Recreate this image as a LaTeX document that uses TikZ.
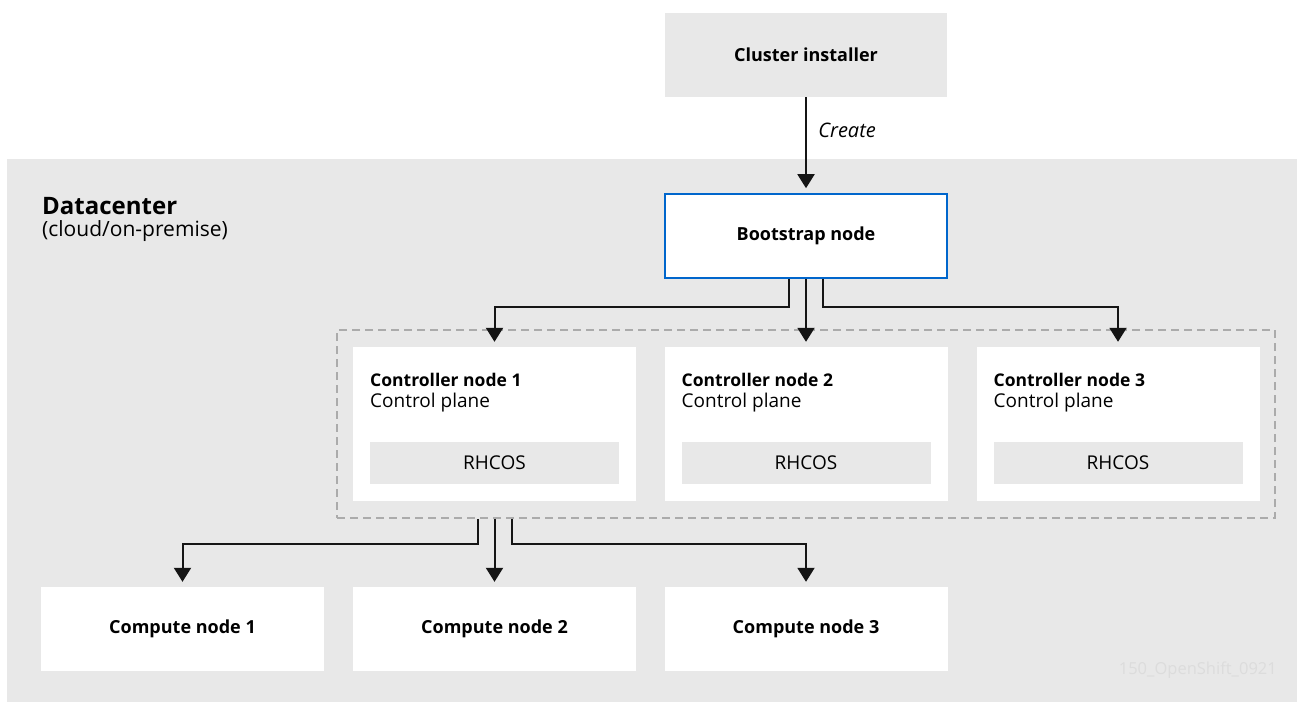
\documentclass[tikz,border=0pt]{standalone}
\usepackage{fontspec}
\setmainfont{Open Sans}
\usetikzlibrary{arrows.meta,positioning}
\definecolor{bggray}{HTML}{E8E8E8}
\definecolor{dashgray}{HTML}{ABABAB}
\definecolor{bootblue}{HTML}{0066CC}
\definecolor{linedark}{HTML}{151515}
\definecolor{markgray}{HTML}{DCDCDC}
\begin{document}
\begin{tikzpicture}[x=1pt, y=-1pt, font=\fontsize{19}{22}\selectfont,
  main box/.style={rectangle, inner sep=0pt, minimum width=283pt, minimum height=84pt, font=\fontsize{18}{21}\selectfont\bfseries},
  gray box/.style={main box, fill=bggray},
  white box/.style={main box, fill=white},
  ctl box/.style={white box, minimum height=154pt},
  os box/.style={rectangle, inner sep=0pt, fill=bggray, minimum width=249pt, minimum height=42pt},
  conn/.style={draw=linedark, line width=2pt, -{Triangle[width=17pt,length=14pt]}, shorten >=5pt}]
\useasboundingbox (0,0) rectangle (1297,702);
%datacenter area
\node[rectangle, inner sep=0pt, fill=bggray, minimum width=1290pt, minimum height=543pt] (dc) at (652,430.5) {};
\node[anchor=base west, inner sep=0pt, font=\fontsize{24}{28}\selectfont\bfseries] (dctitle) at (42,214) {Datacenter};
\node[anchor=base west, inner sep=0pt, font=\fontsize{21}{24}\selectfont] (dcsub) at (42,236) {(cloud/on-premise)};
\node[anchor=east, inner sep=0pt, text=markgray, font=\fontsize{16.5}{18}\selectfont] (mark) at (1277,670) {150\_OpenShift\_0921};
%boxes
\node[gray box, minimum width=282pt] (inst) at (806,55) {Cluster installer};
\node[white box, minimum width=282pt, draw=bootblue, line width=1.6pt] (boot) at (806,236) {Bootstrap node};
\node[rectangle, inner sep=0pt, draw=dashgray, line width=1.5pt, dash pattern=on 8pt off 5pt, minimum width=938pt, minimum height=188pt] (ctlgroup) at (806,424) {};
\foreach \i/\x in {1/494.5, 2/806, 3/1118} {
  \node[ctl box] (ctl\i) at (\x,424) {};
  \node[anchor=base west, inner sep=0pt, font=\fontsize{17.5}{20}\selectfont\bfseries] (ctltitle\i) at (\x-124.5,386) {Controller node \i};
  \node[anchor=base west, inner sep=0pt] (ctlsub\i) at (\x-124.5,407) {Control plane};
  \node[os box] (os\i) at (\x,463) {RHCOS};
}
\node[white box] (comp1) at (182.5,629) {Compute node 1};
\node[white box] (comp2) at (494.5,629) {Compute node 2};
\node[white box] (comp3) at (806,629) {Compute node 3};
%connectors
\draw[conn] (inst.south) -- node[pos=0.35, right=8pt, font=\fontsize{20}{22}\selectfont\itshape] {Create} (boot.north);
\draw[conn] ([xshift=-17pt]boot.south) -- ++(0,28) -| (ctl1.north);
\draw[conn] (boot.south) -- (ctl2.north);
\draw[conn] ([xshift=17pt]boot.south) -- ++(0,28) -| (ctl3.north);
\coordinate (split) at (ctlgroup.south -| comp2.north);
\draw[conn] ([xshift=-17pt]split) -- ++(0,25) -| (comp1.north);
\draw[conn] (split) -- (comp2.north);
\draw[conn] ([xshift=17pt]split) -- ++(0,25) -| (comp3.north);
\end{tikzpicture}
\end{document}
